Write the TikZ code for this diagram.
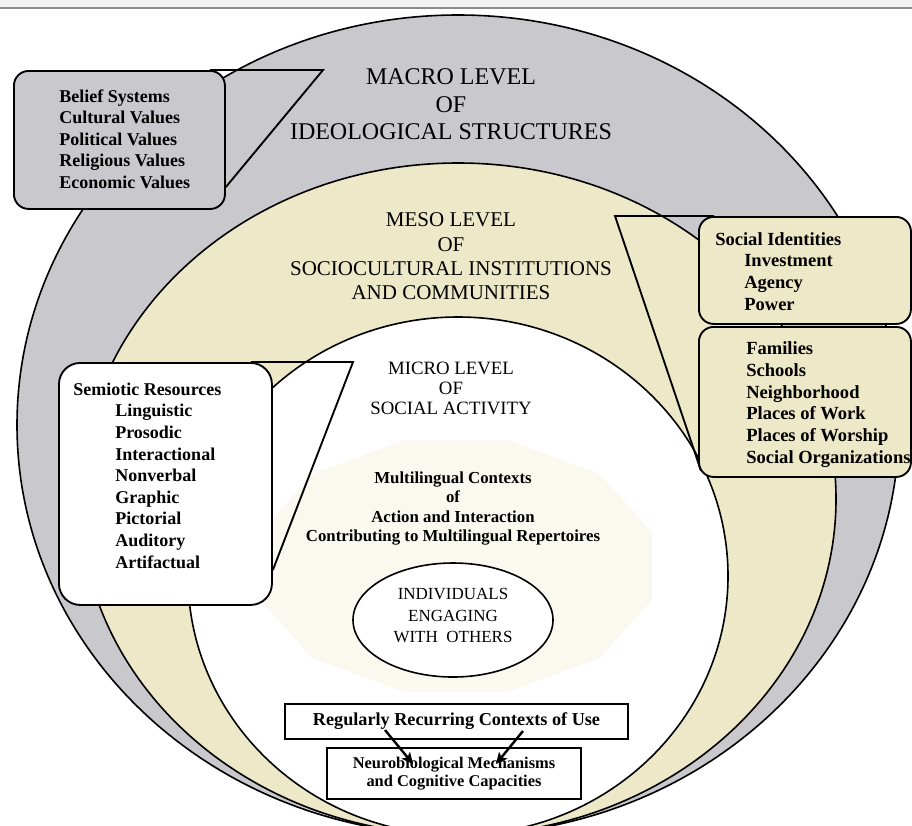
\documentclass[tikz,border=0pt]{standalone}
\usepackage{fontspec}
\setmainfont{Liberation Serif}
\usetikzlibrary{shapes.geometric,arrows.meta,calc}

\definecolor{macrogray}{RGB}{200,200,205}
\definecolor{mesobeige}{RGB}{237,232,200}
\definecolor{softcream}{RGB}{250,248,239}

\begin{document}
\begin{tikzpicture}[x=0.75pt,y=-0.75pt,
  ring/.style={ellipse, draw=black, line width=1.2pt, inner sep=0pt},
  callbox/.style={draw=black, line width=1.4pt, rounded corners=11pt, inner sep=0pt, anchor=north west},
  pointer/.style={draw=black, line width=1.4pt, line join=miter},
  plainbox/.style={draw=black, line width=1.6pt, fill=white, inner sep=0pt, align=center},
  flow/.style={-{Stealth[length=8.5pt,width=8pt,inset=2pt]}, line width=1.8pt},
  level/.style={align=center, inner sep=0pt},
  list/.style={align=left, inner sep=0pt, anchor=west, font=\bfseries\fontsize{13.5}{16.2}\selectfont},
]

\useasboundingbox (0,0) rectangle (912,825);
\clip (0,0) rectangle (912,825);
\fill[white] (0,0) rectangle (912,825);
\fill[black!5] (0,0) rectangle (912,8);
\draw[black!45, line width=0.9pt] (0,8) -- (912,8);

% nested levels, all touching at the bottom
\node[ring, fill=macrogray, minimum width=661.5pt, minimum height=615pt] (macro) at (458,425) {};
\node[ring, fill=mesobeige, minimum width=567pt, minimum height=504pt] (meso) at (458,499) {};
\node[ring, fill=white, minimum width=405pt, minimum height=388.5pt] (micro) at (458,576) {};

% soft backdrop behind the multilingual contexts
\fill[softcream] plot[samples at={15,45,...,345}] ({456+203*cos(\x)},{566+130*sin(\x)}) -- cycle;

% individuals
\node[ring, fill=white, minimum width=150pt, minimum height=85.5pt] (indiv) at (453,620) {};
\node[level, font=\fontsize{12.75}{16.1}\selectfont] (indivtext) at (453,615.5) {INDIVIDUALS\\ENGAGING\\WITH\ \ OTHERS};

% level titles
\node[level, font=\fontsize{18}{20.6}\selectfont] (macrolabel) at (451,104.5) {MACRO LEVEL\\OF\\IDEOLOGICAL STRUCTURES};
\node[level, font=\fontsize{15.75}{18.2}\selectfont] (mesolabel) at (451,256.5) {MESO LEVEL\\OF\\SOCIOCULTURAL INSTITUTIONS\\AND COMMUNITIES};
\node[level, font=\fontsize{14.1}{15}\selectfont] (microlabel) at (451,388) {MICRO LEVEL\\OF\\SOCIAL ACTIVITY};

\node[level, font=\bfseries\fontsize{12.6}{14.7}\selectfont] (context) at (453,508.5) {Multilingual Contexts\\of\\Action and Interaction\\Contributing to Multilingual Repertoires};

% contexts of use and cognition
\node[plainbox, minimum width=257.25pt, minimum height=26.25pt, font=\bfseries\fontsize{13.65}{16}\selectfont] (recur) at (456.5,721.5) {Regularly Recurring Contexts of Use};
\node[plainbox, minimum width=190.5pt, minimum height=38.25pt, font=\bfseries\fontsize{12.3}{13.5}\selectfont] (neuro) at (454,773.5) {Neurobiological Mechanisms\\and Cognitive Capacities};
\coordinate (r1) at (385,730);
\coordinate (n1) at (413,764);
\coordinate (r2) at (523,731);
\coordinate (n2) at (496,764);
\draw[flow] (r1) -- (n1);
\draw[flow] (r2) -- (n2);

% ideological structures callout
\node[callbox, fill=macrogray, minimum width=158.25pt, minimum height=103.5pt] (beliefbox) at (13,70) {};
\coordinate (belieftip) at (323,70);
\draw[pointer] ($(beliefbox.north east)+(-16,0)$) -- (belieftip) -- ($(beliefbox.north east)+(0,117)$);
\node[list] (beliefs) at (59,139) {Belief Systems\\Cultural Values\\Political Values\\Religious Values\\Economic Values};

% semiotic resources callout
\node[callbox, fill=white, rounded corners=16pt, minimum width=159.75pt, minimum height=181.5pt] (semiobox) at (58,362) {};
\coordinate (semiotip) at (353,362);
\draw[pointer] ($(semiobox.north east)+(-22,0)$) -- (semiotip) -- ($(semiobox.north east)+(0,208)$);
\node[list] (semiotic) at (73,475.5) {Semiotic Resources\\
\hspace*{31.5pt}Linguistic\\
\hspace*{31.5pt}Prosodic\\
\hspace*{31.5pt}Interactional\\
\hspace*{31.5pt}Nonverbal\\
\hspace*{31.5pt}Graphic\\
\hspace*{31.5pt}Pictorial\\
\hspace*{31.5pt}Auditory\\
\hspace*{31.5pt}Artifactual};

% institutions and identities callout
\node[callbox, fill=mesobeige, minimum width=159pt, minimum height=80.25pt] (identbox) at (698,216) {};
\node[callbox, fill=mesobeige, minimum width=159pt, minimum height=112.5pt] (placebox) at (698,326) {};
\coordinate (identtip) at (615,216);
\draw[pointer] ($(identbox.north west)+(16,0)$) -- (identtip) -- ($(placebox.south west)+(3,-7)$);
\node[list, font=\bfseries\fontsize{13.9}{16.3}\selectfont] (ident) at (715,271.5) {Social Identities\\
\hspace*{21.75pt}Investment\\
\hspace*{21.75pt}Agency\\
\hspace*{21.75pt}Power};
\node[list, font=\bfseries\fontsize{13.9}{16.3}\selectfont] (places) at (746,404.5) {Families\\Schools\\Neighborhood\\Places of Work\\Places of Worship\\Social Organizations};

\end{tikzpicture}
\end{document}
